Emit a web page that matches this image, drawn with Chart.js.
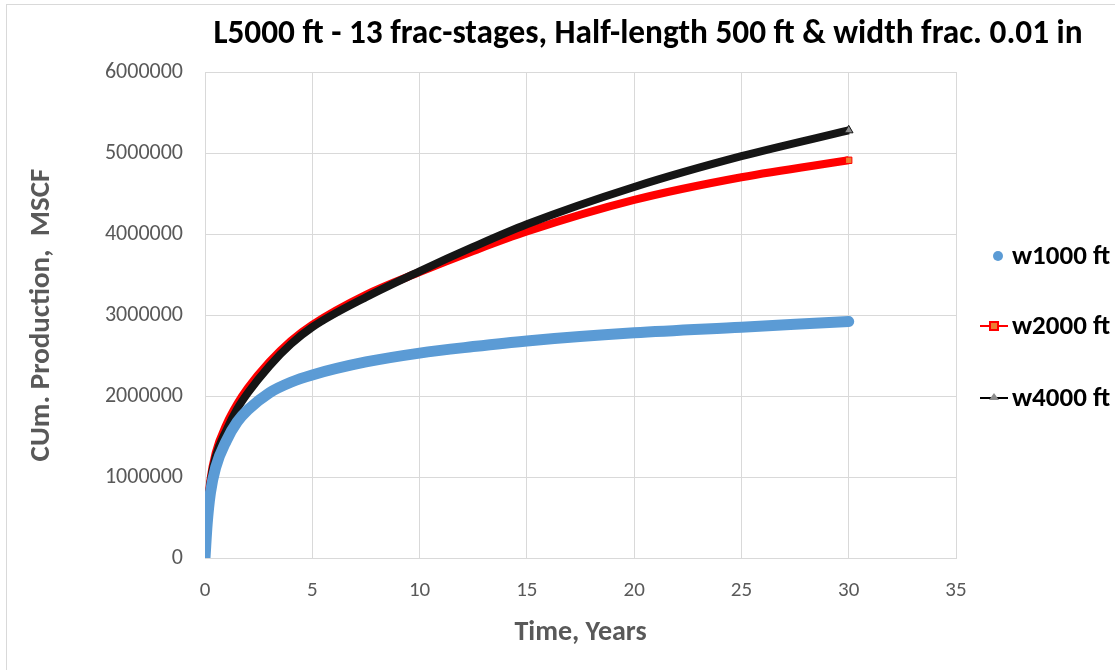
<!DOCTYPE html>
<html>
<head>
<meta charset="utf-8">
<script src="https://cdn.jsdelivr.net/npm/chart.js@4.4.0/dist/chart.umd.min.js"></script>
<style>
  html, body { margin: 0; padding: 0; background: #fff; }
  #wrap { width: 1115px; height: 670px; position: relative; }
</style>
</head>
<body>
<div id="wrap"><canvas id="prodChart"></canvas></div>
<script>
// values
const years = [0, 0.1, 0.25, 0.5, 1, 1.5, 2, 3, 4, 5, 7.5, 10, 12.5, 15, 20, 25, 30];
const w1000 = [0, 420000, 800000, 1120000, 1450000, 1680000, 1830000, 2040000, 2170000, 2260000, 2420000, 2530000, 2610000, 2680000, 2780000, 2850000, 2920000];
const w2000 = [0, 550000, 960000, 1300000, 1650000, 1900000, 2100000, 2420000, 2680000, 2880000, 3250000, 3530000, 3790000, 4030000, 4420000, 4700000, 4910000];
const w4000 = [0, 500000, 920000, 1250000, 1580000, 1840000, 2040000, 2370000, 2640000, 2850000, 3220000, 3540000, 3840000, 4120000, 4580000, 4960000, 5280000];
const seriesNames = ['w1000 ft', 'w2000 ft', 'w4000 ft'];
const chartTitle = 'L5000 ft - 13 frac-stages, Half-length 500 ft & width frac. 0.01 in';
const xTitle = 'Time, Years';
const yTitle = 'CUm. Production,  MSCF';

const fontFam = 'Carlito, "Liberation Sans Narrow", "Open Sans", sans-serif';
const tickGray = '#595959';

const toPoints = (vals) => vals.map((v, i) => ({ x: years[i], y: v }));
const lastOnly = (r) => (ctx) => ctx.dataIndex === years.length - 1 ? r : 0;

// title, legend and the outer frame
const decor = {
  id: 'decor',
  beforeDraw(chart) {
    const c = chart.ctx;
    c.save();
    c.strokeStyle = '#d9d9d9';
    c.lineWidth = 1;
    c.strokeRect(6.5, 4.5, 1300, 900);
    c.restore();
  },
  afterDraw(chart) {
    const c = chart.ctx;
    c.save();
    // title, sized to the width it takes in the picture
    c.font = 'bold 28px ' + fontFam;
    let size = 28 * 870 / c.measureText(chartTitle).width;
    c.font = 'bold ' + size.toFixed(1) + 'px ' + fontFam;
    c.fillStyle = '#000';
    c.textAlign = 'center';
    c.textBaseline = 'middle';
    c.fillText(chartTitle, 648, 35);

    // legend
    const legY = [256, 326, 398];
    c.font = 'bold 27px ' + fontFam;
    c.textAlign = 'left';
    seriesNames.forEach((name, i) => {
      const y = legY[i];
      if (i === 0) {
        c.fillStyle = '#5b9bd5';
        c.beginPath(); c.arc(998, y, 5, 0, Math.PI * 2); c.fill();
      } else if (i === 1) {
        c.strokeStyle = '#ff0000'; c.lineWidth = 2;
        c.beginPath(); c.moveTo(980, y); c.lineTo(1008, y); c.stroke();
        c.fillStyle = '#ed7d31';
        c.fillRect(990, y - 4, 8, 8);
        c.strokeRect(990, y - 4, 8, 8);
      } else {
        c.strokeStyle = '#000'; c.lineWidth = 2;
        c.beginPath(); c.moveTo(980, y); c.lineTo(1008, y); c.stroke();
        c.fillStyle = '#8c8c8c';
        c.beginPath(); c.moveTo(994, y - 5); c.lineTo(999, y + 2); c.lineTo(989, y + 2); c.closePath(); c.fill();
      }
      c.fillStyle = '#000';
      c.fillText(name, 1012, y + 1);
    });
    c.restore();
  }
};

new Chart(document.getElementById('prodChart'), {
  type: 'scatter',
  data: {
    datasets: [
      {
        label: seriesNames[0],
        data: toPoints(w1000),
        showLine: true,
        borderColor: '#5b9bd5',
        backgroundColor: '#5b9bd5',
        borderWidth: 11,
        borderCapStyle: 'round',
        cubicInterpolationMode: 'monotone',
        pointRadius: 0,
        order: 1
      },
      {
        label: seriesNames[1],
        data: toPoints(w2000),
        showLine: true,
        borderColor: '#ff0000',
        backgroundColor: '#ed7d31',
        borderWidth: 8,
        cubicInterpolationMode: 'monotone',
        pointStyle: 'rect',
        pointRadius: lastOnly(4.5),
        pointBorderWidth: 1,
        order: 3
      },
      {
        label: seriesNames[2],
        data: toPoints(w4000),
        showLine: true,
        borderColor: '#151515',
        backgroundColor: '#8c8c8c',
        borderWidth: 8,
        cubicInterpolationMode: 'monotone',
        pointStyle: 'triangle',
        pointRadius: lastOnly(5),
        pointBorderWidth: 1,
        order: 2
      }
    ]
  },
  options: {
    responsive: true,
    maintainAspectRatio: false,
    animation: false,
    layout: { padding: { left: 0, right: 159, top: 72, bottom: 0 } },
    plugins: {
      legend: { display: false },
      title: { display: false },
      tooltip: { enabled: false }
    },
    scales: {
      x: {
        type: 'linear',
        min: 0,
        max: 35,
        ticks: { stepSize: 5, padding: 20, color: tickGray, font: { family: fontFam, size: 21 } },
        grid: { color: '#d9d9d9', drawTicks: false },
        border: { color: '#d9d9d9' },
        title: { display: true, text: xTitle, color: tickGray, padding: { bottom: 20 }, font: { family: fontFam, size: 28, weight: 'bold' } },
        afterFit: (s) => { s.height = 112; }
      },
      y: {
        min: 0,
        max: 6000000,
        ticks: { stepSize: 1000000, padding: 22, color: tickGray, font: { family: fontFam, size: 22 }, callback: (v) => String(v) },
        grid: { color: '#d9d9d9', drawTicks: false },
        border: { color: '#d9d9d9' },
        title: { display: true, text: yTitle, color: tickGray, padding: { top: 24 }, font: { family: fontFam, size: 29, weight: 'bold' } },
        afterFit: (s) => { s.width = 205; }
      }
    }
  },
  plugins: [decor]
});
</script>
</body>
</html>
